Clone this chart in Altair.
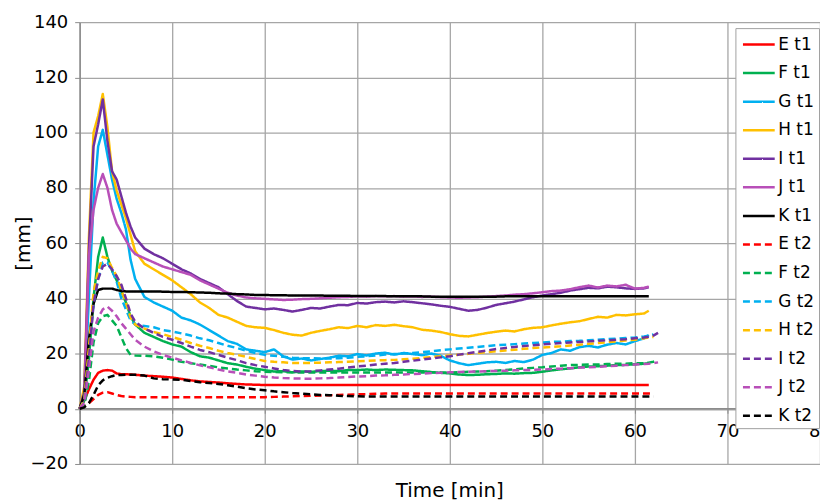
import altair as alt
import pandas as pd

# time grid (min)
T = [0, 0.5, 1, 1.5, 2, 2.5, 3, 3.5, 4, 4.5, 5, 5.5, 6] + list(range(7, 62)) + [61.5, 62, 62.5]

N = None
E_t1 = [0, 3, 7, 10.5, 13, 13.8, 14, 13.8, 12.8, 12.5, 12.5, 12.4, 12.3,
        12, 11.8, 11.6, 11.3, 10.8, 10.3, 9.9, 9.7, 9.5, 9.2, 9, 8.8, 8.7, 8.6] + [8.6] * 41 + [8.6, N, N]
F_t1 = [0, 3, 18, 40, 55, 62, 55, 50, 46.5, 42.5, 38.5, 33.5, 30.5,
        27.5, 26, 24.5, 23.3, 22.5, 20.5, 19, 18.5, 17.5, 16.5, 16, 15.2, 14.5, 14,
        13.5, 13.6, 13.2, 13.5, 13.4, 13.6, 13.8, 13.6, 14, 14, 14.2, 14, 14.2, 14.1, 14, 13.9,
        13.6, 13.3, 13, 12.8, 12.4, 12.2, 12.3, 12.5, 12.6, 12.8, 12.7, 12.9, 13, 13.4,
        13.9, 14.3, 14.6, 15, 15.3, 15.4, 15.6, 15.8, 15.9, 16.1, 16.3, 16.5, N, N]
G_t1 = [0, 5, 40, 75, 95, 101, 92, 83, 76, 71, 65, 54, 47,
        40.5, 38.5, 37, 35.5, 33, 32, 30.5, 28.5, 26.5, 24.5, 23.5, 21.5, 21, 20.5,
        21.5, 19, 17.8, 18.2, 17.5, 18, 18.5, 19.2, 19, 19.8, 19.3, 20, 20.3, 19.6, 20.2, 19.8,
        19.4, 20, 19.2, 17.5, 16.5, 15.8, 16.3, 16.8, 17, 16.6, 17.3, 16.9, 17.8, 19.5,
        20.2, 21.5, 21, 22.3, 22.8, 22.2, 23.2, 23.8, 23.3, 24.5, 25.5, 26.7, N, N]
H_t1 = [0, 8, 62, 100, 106, 114, 102, 86, 79, 74, 69, 63, 57,
        52.5, 50.5, 48.5, 46.5, 44, 41.5, 38.5, 36.5, 34, 33, 31.5, 30, 29.5, 29.3,
        28.5, 27.5, 26.8, 26.5, 27.5, 28.2, 28.8, 29.5, 29.2, 30, 29.5, 30.3, 30, 30.4, 29.9, 29.5,
        28.6, 28.3, 27.8, 27, 26.4, 26.2, 26.8, 27.4, 27.9, 28.3, 28, 28.8, 29.3, 29.5,
        30.2, 30.8, 31.3, 31.7, 32.5, 33.3, 33, 34, 33.8, 34.2, 34.5, 35.5, N, N]
I_t1 = [0, 6, 58, 95, 103, 112, 97, 86, 83, 77, 71, 66, 62,
        58, 56, 54.5, 52.5, 50.5, 49, 47, 45.5, 44, 41.5, 39, 37, 36.5, 36,
        36.3, 35.8, 35.2, 35.8, 36.5, 36.3, 37, 37.6, 37.5, 38.3, 38.1, 38.6, 38.8, 38.5, 38.9, 38.6,
        38.2, 37.8, 37.3, 36.9, 36.2, 35.5, 35.8, 36.6, 37.6, 38.2, 38.8, 39.6, 40.4, 41,
        41.5, 42, 42.8, 43.3, 43.8, 43.6, 44.2, 44, 43.6, 43.4, 43.6, 44, N, N]
J_t1 = [0, 4, 55, 72, 80, 85, 80, 72, 67, 64, 61, 58, 56,
        54.5, 53, 51.5, 50.5, 49.5, 48.5, 46.5, 45, 43.5, 42, 41, 40.3, 40, 39.8,
        39.6, 39.4, 39.5, 39.7, 39.8, 40, 40.2, 40.4, 40.5, 40.7, 40.6, 40.8, 40.7, 40.8, 40.6, 40.7,
        40.5, 40.6, 40.4, 40.3, 40.2, 40.3, 40.4, 40.6, 40.8, 41, 41.3, 41.5, 41.8, 42.2,
        42.6, 42.8, 43.3, 44, 44.6, 43.9, 44.6, 44.3, 44.9, 43.5, 43.8, 44.2, N, N]
K_t1 = [0, 5, 25, 38, 43, 43.5, 43.5, 43.5, 43, 42.6, 42.5, 42.5, 42.5,
        42.5, 42.5, 42.4, 42.3, 42.3, 42.2, 42.1, 42, 41.8, 41.7, 41.5, 41.4, 41.2, 41.2,
        41.1, 41.1, 41, 41, 41, 41, 40.9, 40.9, 40.9, 40.8, 40.8, 40.8, 40.8, 40.7, 40.7, 40.7,
        40.7, 40.6, 40.6, 40.6, 40.6, 40.6, 40.6, 40.6, 40.6, 40.7, 40.7, 40.7, 40.7, 40.7,
        40.7, 40.7, 40.7, 40.7, 40.7, 40.7, 40.7, 40.7, 40.7, 40.7, 40.7, 40.7, N, N]
E_t2 = [0, 1, 2, 3.5, 5, 5.8, 6, 5.5, 5, 4.6, 4.4, 4.3, 4.2,
        4.2, 4.2, 4.2, 4.2, 4.2, 4.2, 4.2, 4.2, 4.2, 4.2, 4.2, 4.2, 4.2, 4.2,
        4.3, 4.4, 4.5, 4.6, 4.7, 4.8, 4.9, 5, 5.1, 5.2, 5.3, 5.4, 5.5, 5.5, 5.5, 5.5,
        5.5, 5.5, 5.5, 5.5, 5.5, 5.5, 5.5, 5.5, 5.5, 5.5, 5.5, 5.5, 5.5, 5.5,
        5.5, 5.5, 5.5, 5.5, 5.5, 5.5, 5.5, 5.5, 5.5, 5.5, 5.5, 5.5, 5.5, N]
F_t2 = [0, 1, 10, 24, 31, 33.5, 34, 32, 30, 26, 22, 19.5, 19.3,
        19.2, 19, 18.5, 17.8, 17, 16.5, 16, 15.5, 15, 14.6, 14.2, 13.9, 13.6, 13.4,
        13.3, 13.2, 13.2, 13.1, 13.1, 13.1, 13.1, 13.1, 13.1, 13.1, 13.1, 13.1, 13.1, 13.1, 13.1, 13.1,
        13.1, 13.1, 13.1, 13.1, 13.2, 13.4, 13.5, 13.6, 13.8, 14, 14.3, 14.6, 14.8, 15,
        15.3, 15.6, 15.8, 15.9, 16, 16, 16.2, 16.3, 16.3, 16.5, 16.5, 16.7, 17, 17.5]
G_t2 = [0, 3, 20, 38, 47, 53, 53, 50, 46, 40, 36, 32, 30.5,
        30, 29.5, 28.5, 28, 27.3, 26.5, 25.5, 24.8, 23.8, 22.8, 22, 21, 20.2, 19.5,
        19.2, 18.8, 18.5, 18.3, 18.3, 18.2, 18.2, 18.3, 18.5, 18.8, 19, 19.3, 19.6, 19.8, 20, 20.2,
        20.5, 20.8, 21.2, 21.5, 21.8, 22.1, 22.4, 22.7, 23, 23.2, 23.4, 23.6, 23.8, 24,
        24.2, 24.3, 24.5, 24.6, 24.8, 25, 25.2, 25.4, 25.6, 25.8, 26.2, 26.5, 26.9, N]
H_t2 = [0, 3, 22, 42, 50, 55, 54.5, 51, 48, 43, 38.5, 33, 30.5,
        29, 27.8, 27, 26, 25, 23.8, 22.8, 22, 21, 20.2, 19.5, 18.8, 18, 17.3,
        17, 16.8, 16.6, 16.6, 16.6, 16.7, 16.8, 16.9, 17, 17.2, 17.3, 17.5, 17.6, 17.7, 17.9, 18.1,
        18.4, 18.7, 19, 19.3, 19.6, 19.9, 20.2, 20.5, 20.8, 21.1, 21.4, 21.7, 22, 22.2,
        22.4, 22.6, 22.9, 23.2, 23.5, 23.8, 24.1, 24.4, 24.7, 25, 25.5, 25.8, 26, N]
I_t2 = [0, 2, 18, 38, 47, 51.5, 52.5, 50.5, 48, 45, 40, 34.5, 31.5,
        29, 27.5, 26, 25, 23.8, 22.5, 21.3, 20.5, 19.5, 18.5, 17.6, 16.5, 15.8, 15.2,
        14.6, 14, 13.7, 13.5, 13.6, 13.9, 14.2, 14.5, 14.9, 15.3, 15.6, 16, 16.3, 16.6, 17, 17.4,
        17.8, 18.2, 18.6, 19, 19.6, 20.1, 20.6, 21.1, 21.6, 22, 22.4, 22.7, 23, 23.3,
        23.6, 23.8, 24, 24.2, 24.4, 24.6, 24.8, 25, 25.2, 25.5, 25.8, 26.1, 26.5, 27.5]
J_t2 = [0, 2, 14, 28, 33, 36, 37, 35.5, 33.5, 31, 29, 27, 25,
        22.5, 20.8, 19.5, 18.5, 17.5, 16.6, 15.7, 15, 14.2, 13.5, 13, 12.4, 12, 11.6,
        11.3, 11.1, 11, 10.9, 10.9, 11, 11.1, 11.3, 11.5, 11.7, 11.8, 12, 12.1, 12.3, 12.4, 12.6,
        12.7, 12.9, 13, 13.2, 13.3, 13.4, 13.5, 13.6, 13.7, 13.8, 13.9, 14, 14.1, 14.2,
        14.4, 14.5, 14.7, 14.9, 15, 15.2, 15.4, 15.6, 15.8, 16, 16.2, 16.3, 16.5, 16.8]
K_t2 = [0, 0.5, 2, 5, 8.5, 10.3, 11.2, 11.8, 12.2, 12.2, 12.3, 12.3, 12.3,
        12, 11, 10.7, 10.6, 10.5, 10, 9.6, 9.3, 9, 8.5, 8, 7.4, 7, 6.7,
        6.3, 6, 5.7, 5.5, 5.2, 5, 4.9, 4.7, 4.6, 4.5, 4.4, 4.4, 4.4, 4.4, 4.4, 4.4,
        4.4, 4.4, 4.4, 4.4, 4.4, 4.4, 4.4, 4.4, 4.4, 4.4, 4.4, 4.4, 4.4, 4.4,
        4.4, 4.4, 4.4, 4.4, 4.4, 4.4, 4.4, 4.4, 4.4, 4.4, 4.4, 4.4, 4.4, N]

names = ["E t1", "F t1", "G t1", "H t1", "I t1", "J t1", "K t1",
         "E t2", "F t2", "G t2", "H t2", "I t2", "J t2", "K t2"]
series = [E_t1, F_t1, G_t1, H_t1, I_t1, J_t1, K_t1,
          E_t2, F_t2, G_t2, H_t2, I_t2, J_t2, K_t2]
base_colors = ["#FF0000", "#00B050", "#00B0F0", "#FFC000", "#7030A0", "#B84FB8", "#000000"]
colors = base_colors + base_colors
dashes = [[1, 0]] * 7 + [[7, 4]] * 7

rows = []
for order, (nm, vals) in enumerate(zip(names, series)):
    for t, v in zip(T, vals):
        if v is not None:
            rows.append({"series": nm, "t": t, "v": v, "o": order})
df = pd.DataFrame(rows)

FONT = "DejaVu Sans"

chart = alt.Chart(df).mark_line(strokeWidth=2.5, strokeCap="butt", strokeJoin="round").encode(
    x=alt.X("t:Q", scale=alt.Scale(domain=[0, 80], nice=False),
            axis=alt.Axis(values=list(range(0, 81, 10)), title=None, offset=-56,
                          labelFontSize=18, labelFont=FONT, labelColor="#000",
                          labelPadding=9, tickSize=5, tickColor="#8c8c8c",
                          domainColor="#8c8c8c", domainWidth=1.5,
                          gridColor="#a6a6a6", gridWidth=1.3, labelFlush=False)),
    y=alt.Y("v:Q", scale=alt.Scale(domain=[-20, 140], nice=False),
            axis=alt.Axis(values=list(range(-20, 141, 20)), title="[mm]",
                          titleFontSize=20, titleFont=FONT, titleFontWeight="normal",
                          titleColor="#000", titlePadding=-4,
                          labelFontSize=18, labelFont=FONT, labelColor="#000",
                          labelPadding=7, tickSize=5, tickColor="#8c8c8c",
                          domainColor="#8c8c8c", domainWidth=1.5,
                          gridColor="#a6a6a6", gridWidth=1.3)),
    color=alt.Color("series:N", scale=alt.Scale(domain=names, range=colors),
                    legend=alt.Legend(title=None, orient="none", legendX=659, legendY=6,
                                      symbolType="M-0.81,0H2.09", symbolSize=484,
                                      symbolStrokeWidth=2.5,
                                      labelFontSize=17, labelFont=FONT, labelColor="#000",
                                      rowPadding=7.7, labelOffset=14,
                                      fillColor="#ffffff", strokeColor="#a0a0a0", padding=4)),
    strokeDash=alt.StrokeDash("series:N", scale=alt.Scale(domain=names, range=dashes), legend=None),
    order="o:Q",
).properties(
    width=744, height=444,
    title=alt.TitleParams("Time [min]", orient="bottom", fontSize=20, font=FONT,
                          fontWeight="normal", color="#000", offset=8),
    autosize=alt.AutoSizeParams(type="none"),
    padding={"left": 72, "top": 13, "right": 0, "bottom": 40},
).configure_view(stroke=None)

chart.save("out.html", embed_options={"renderer": "svg", "actions": False})
